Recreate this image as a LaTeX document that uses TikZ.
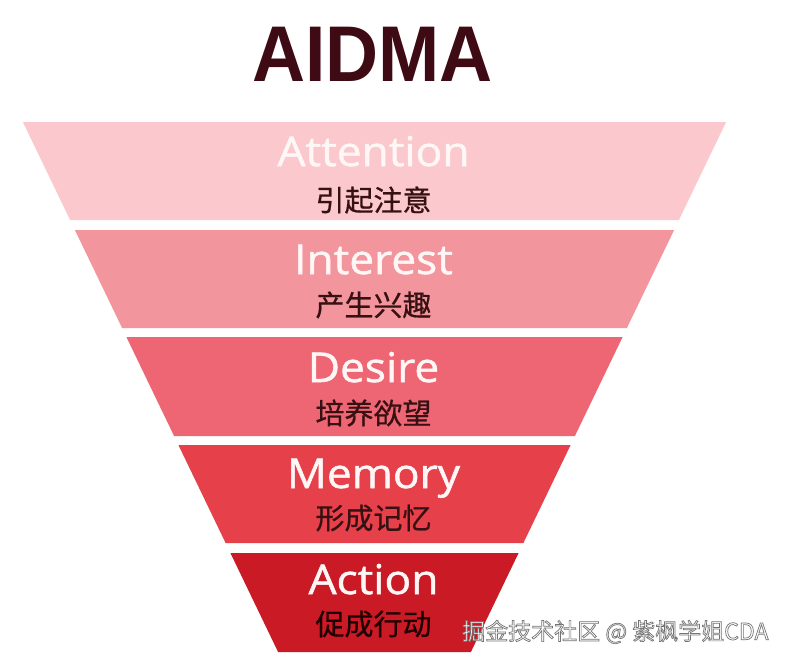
\documentclass[tikz,border=0pt]{standalone}
\usepackage{fontspec}
\setmainfont{Open Sans}
\newfontfamily\engfont[FakeStretch=1.08,FakeBold=1.3]{Open Sans}
\newfontfamily\cjkfont[FakeBold=0.7]{Noto Sans CJK SC}
\newfontfamily\wmfont{Noto Sans CJK SC}
\newfontfamily\titlefont[FakeStretch=0.93]{Liberation Sans}
\definecolor{bandA}{HTML}{FAC8CD}
\definecolor{bandB}{HTML}{F2959D}
\definecolor{bandC}{HTML}{EE6674}
\definecolor{bandD}{HTML}{E6404B}
\definecolor{bandE}{HTML}{C91A26}
\definecolor{titlecol}{HTML}{3E0A14}
\definecolor{cntext}{HTML}{361012}
\definecolor{entext}{HTML}{FFF6F6}
\tikzset{
  entitle/.style={anchor=base, inner sep=0pt, text=entext, font=\engfont\fontsize{41}{41}\selectfont},
  cntitle/.style={anchor=center, inner sep=0pt, text=cntext, font=\cjkfont\fontsize{29}{29}\selectfont}
}
\begin{document}
\begin{tikzpicture}[x=1pt,y=-1pt]
\useasboundingbox[fill=white] (0,0) rectangle (789,665);
% title
\node[anchor=base, inner sep=0pt, text=titlecol, font=\titlefont\bfseries\fontsize{79}{79}\selectfont] (title) at (372.5,81.5) {AIDMA};
% funnel bands
\fill[bandA] (22.9,122) -- (726.1,122) -- (678.9,220) -- (70.1,220) -- cycle;
\fill[bandB] (74.9,230) -- (674.1,230) -- (626.9,328) -- (122.1,328) -- cycle;
\fill[bandC] (126.4,337) -- (622.6,337) -- (574.9,436) -- (174.1,436) -- cycle;
\fill[bandD] (178.4,445) -- (570.6,445) -- (523.4,543) -- (225.6,543) -- cycle;
\fill[bandE] (230.4,553) -- (518.6,553) -- (470.9,652) -- (278.1,652) -- cycle;
% labels
\node[entitle] (en1) at (373.5,166) {Attention};
\node[cntitle] (cn1) at (373.5,200) {引起注意};
\node[entitle] (en2) at (373.5,274) {Interest};
\node[cntitle] (cn2) at (373.5,305) {产生兴趣};
\node[entitle] (en3) at (373.5,382) {Desire};
\node[cntitle] (cn3) at (373.5,413) {培养欲望};
\node[entitle] (en4) at (373.5,488) {Memory};
\node[cntitle] (cn4) at (373.5,518) {形成记忆};
\node[entitle] (en5) at (373.5,594) {Action};
\node[cntitle, text=black!88!red] (cn5) at (373.5,624) {促成行动};
% watermark
\node[anchor=west, inner sep=0pt, text=white, font=\wmfont\fontsize{23}{23}\selectfont] (wm) at (462,632)
  {\special{pdf:literal direct 2 Tr 0.7 w 0.45 G}掘金技术社区 @ 紫枫学姐CDA\special{pdf:literal direct 0 Tr}};
\end{tikzpicture}
\end{document}
